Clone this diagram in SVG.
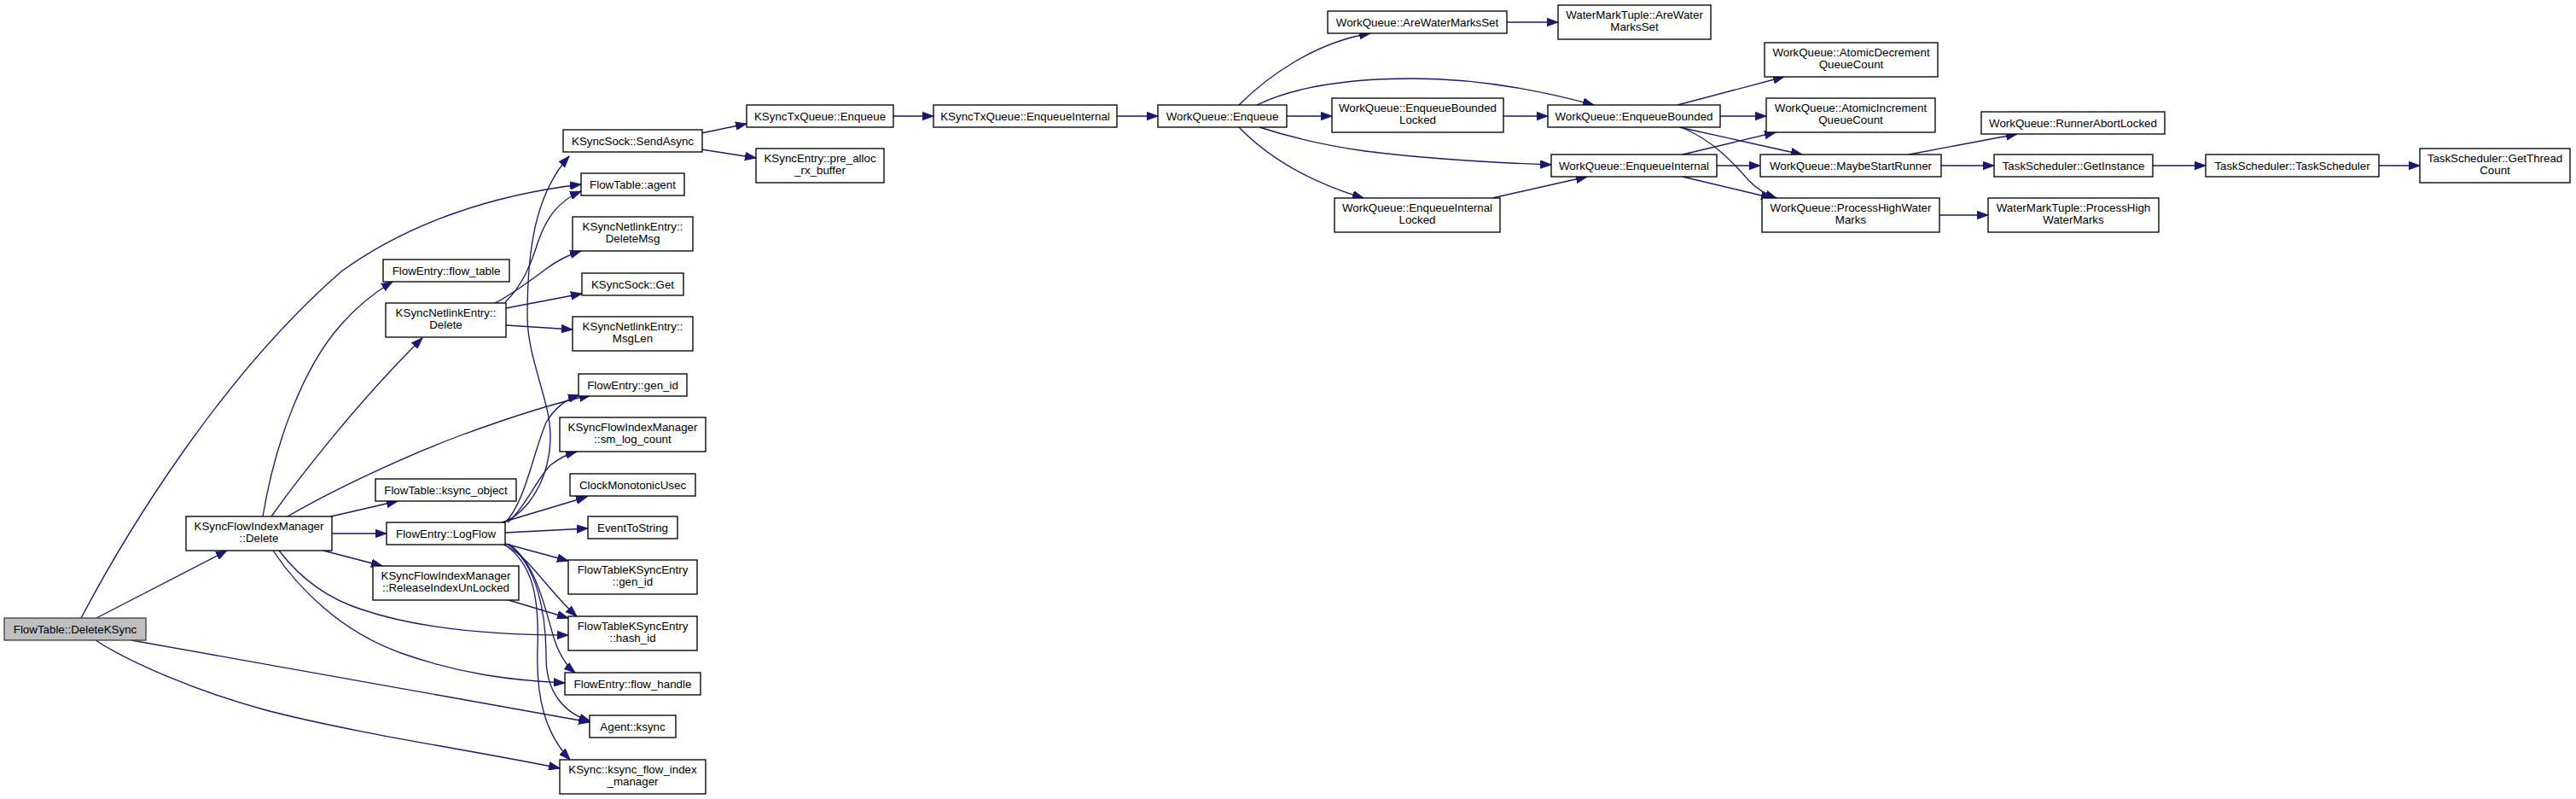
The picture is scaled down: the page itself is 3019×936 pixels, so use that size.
<svg xmlns="http://www.w3.org/2000/svg" width="3019" height="936" viewBox="0 0 3019 936">
<style>
.n rect{fill:#ffffff;stroke:#000000;stroke-width:1.33}
.root rect{fill:#bfbfbf;stroke:#404040;stroke-width:1.33}
text{font-family:"Liberation Sans",Arial,Helvetica,sans-serif;font-size:13.33px;text-anchor:middle;fill:#000000}
.e path{fill:none;stroke:#191970;stroke-width:1.33;marker-end:url(#ah)}
</style>
<defs>
<marker id="ah" markerWidth="14" markerHeight="10" refX="13" refY="5" orient="auto" markerUnits="userSpaceOnUse">
<path d="M0,0.3 L13,5 L0,9.7 z" fill="#191970" stroke="#191970" stroke-width="1"/>
</marker>
</defs>
<rect x="0" y="0" width="3019" height="936" fill="#ffffff"/>
<g id="edges" class="e">
<path d="M113,724 L266,645"/>
<path d="M95,724 C150,620 260,440 400,318 C480,260 580,228 681,216"/>
<path d="M154,750 L691,846"/>
<path d="M112,750 C150,775 230,810 312,832 C420,860 560,880 656,900"/>
<path d="M308,605 C322,520 355,430 400,380 C420,357 440,342 460,330"/>
<path d="M318,605 C350,560 420,470 495,396"/>
<path d="M337,605 C380,580 460,540 540,510 C600,488 650,472 692,463"/>
<path d="M388,605 L466,587"/>
<path d="M389,625 L453,625"/>
<path d="M379,645 L448,663"/>
<path d="M327,645 C350,675 380,700 424,714 C480,733 560,744 666,744"/>
<path d="M320,645 C350,690 400,740 470,765 C540,790 600,797 662,800"/>
<path d="M592,354 C612,335 622,310 630,285 C640,255 655,235 681,224"/>
<path d="M580,355 C600,345 620,330 640,315 C652,306 665,299 681,294"/>
<path d="M593,361 L682,344"/>
<path d="M593,381 L671,386"/>
<path d="M588,613 C620,600 645,560 645,510 C645,470 618,420 618,370 C618,300 625,230 667,183"/>
<path d="M592,612 C615,590 625,530 640,495 C650,478 662,468 679,463"/>
<path d="M595,612 C615,595 630,560 645,545 C655,537 665,532 676,529"/>
<path d="M588,612 L688,582"/>
<path d="M592,624 L689,619"/>
<path d="M592,637 L666,657"/>
<path d="M588,637 C620,650 640,690 676,722"/>
<path d="M596,703 L666,724"/>
<path d="M596,637 C630,660 640,720 650,750 C656,768 664,780 674,788"/>
<path d="M594,637 C630,660 640,720 640,770 C640,810 660,835 692,845"/>
<path d="M590,637 C625,660 632,700 630,760 C628,820 640,860 668,890"/>
<path d="M822,156 L875,145"/>
<path d="M822,175 L886,185"/>
<path d="M1047,136 L1094,136"/>
<path d="M1309,136 L1357,136"/>
<path d="M1452,123 C1485,90 1540,50 1606,39"/>
<path d="M1473,123 C1520,100 1590,92 1657,92 C1740,92 1820,110 1868,123"/>
<path d="M1508,136 L1561,136"/>
<path d="M1476,149 C1510,160 1550,170 1600,177 C1680,187 1760,191 1818,193"/>
<path d="M1452,149 C1480,178 1525,210 1598,232"/>
<path d="M1766,26 L1826,26"/>
<path d="M1762,136 L1814,136"/>
<path d="M1749,232 L1860,207"/>
<path d="M1966,123 L2091,90"/>
<path d="M2016,136 L2070,136"/>
<path d="M1968,149 L2112,181"/>
<path d="M1970,149 C2010,165 2035,195 2050,212 C2060,222 2070,228 2082,232"/>
<path d="M1972,181 L2081,155"/>
<path d="M2012,194 L2063,194"/>
<path d="M1972,207 L2077,232"/>
<path d="M2237,181 L2364,157"/>
<path d="M2275,194 L2337,194"/>
<path d="M2523,194 L2585,194"/>
<path d="M2788,194 L2836,194"/>
<path d="M2273,252 L2330,252"/>
</g>
<g id="n_DeleteKSync" class="root"><rect x="5" y="724" width="166" height="26"/><text x="88" y="741.5">FlowTable::DeleteKSync</text></g>
<g id="n_KFIM_Delete" class="n"><rect x="218" y="605" width="171" height="40"/><text x="303.5" y="620.5">KSyncFlowIndexManager</text><text x="303.5" y="635">::Delete</text></g>
<g id="n_flow_table" class="n"><rect x="449" y="304" width="148" height="26"/><text x="523" y="321.5">FlowEntry::flow_table</text></g>
<g id="n_KNE_Delete" class="n"><rect x="452" y="355" width="141" height="40"/><text x="522.5" y="370.5">KSyncNetlinkEntry::</text><text x="522.5" y="385">Delete</text></g>
<g id="n_ksync_object" class="n"><rect x="440" y="561" width="165" height="26"/><text x="522.5" y="578.5">FlowTable::ksync_object</text></g>
<g id="n_LogFlow" class="n"><rect x="453" y="612" width="139" height="26"/><text x="522.5" y="629.5">FlowEntry::LogFlow</text></g>
<g id="n_Release" class="n"><rect x="437" y="663" width="171" height="40"/><text x="522.5" y="678.5">KSyncFlowIndexManager</text><text x="522.5" y="693">::ReleaseIndexUnLocked</text></g>
<g id="n_SendAsync" class="n"><rect x="660" y="152" width="163" height="26"/><text x="741.5" y="169.5">KSyncSock::SendAsync</text></g>
<g id="n_agent" class="n"><rect x="681" y="203" width="121" height="26"/><text x="741.5" y="220.5">FlowTable::agent</text></g>
<g id="n_DeleteMsg" class="n"><rect x="671" y="254" width="141" height="40"/><text x="741.5" y="269.5">KSyncNetlinkEntry::</text><text x="741.5" y="284">DeleteMsg</text></g>
<g id="n_Get" class="n"><rect x="682" y="320" width="119" height="26"/><text x="741.5" y="337.5">KSyncSock::Get</text></g>
<g id="n_MsgLen" class="n"><rect x="671" y="371" width="141" height="40"/><text x="741.5" y="386.5">KSyncNetlinkEntry::</text><text x="741.5" y="401">MsgLen</text></g>
<g id="n_gen_id" class="n"><rect x="678" y="438" width="127" height="26"/><text x="741.5" y="455.5">FlowEntry::gen_id</text></g>
<g id="n_sm_log_count" class="n"><rect x="656" y="489" width="171" height="40"/><text x="741.5" y="504.5">KSyncFlowIndexManager</text><text x="741.5" y="519">::sm_log_count</text></g>
<g id="n_Clock" class="n"><rect x="668" y="555" width="147" height="26"/><text x="741.5" y="572.5">ClockMonotonicUsec</text></g>
<g id="n_EventToString" class="n"><rect x="689" y="605" width="105" height="26"/><text x="741.5" y="622.5">EventToString</text></g>
<g id="n_FTKE_gen_id" class="n"><rect x="666" y="656" width="151" height="40"/><text x="741.5" y="671.5">FlowTableKSyncEntry</text><text x="741.5" y="686">::gen_id</text></g>
<g id="n_FTKE_hash_id" class="n"><rect x="666" y="722" width="151" height="40"/><text x="741.5" y="737.5">FlowTableKSyncEntry</text><text x="741.5" y="752">::hash_id</text></g>
<g id="n_flow_handle" class="n"><rect x="662" y="788" width="159" height="26"/><text x="741.5" y="805.5">FlowEntry::flow_handle</text></g>
<g id="n_Agent_ksync" class="n"><rect x="691" y="838" width="101" height="26"/><text x="741.5" y="855.5">Agent::ksync</text></g>
<g id="n_KSync_fim" class="n"><rect x="656" y="890" width="171" height="40"/><text x="741.5" y="905.5">KSync::ksync_flow_index</text><text x="741.5" y="920">_manager</text></g>
<g id="n_KTQ_Enqueue" class="n"><rect x="875" y="123" width="172" height="26"/><text x="961" y="140.5">KSyncTxQueue::Enqueue</text></g>
<g id="n_pre_alloc" class="n"><rect x="886" y="174" width="150" height="40"/><text x="961" y="189.5">KSyncEntry::pre_alloc</text><text x="961" y="204">_rx_buffer</text></g>
<g id="n_KTQ_EnqueueInternal" class="n"><rect x="1094" y="123" width="215" height="26"/><text x="1201.5" y="140.5">KSyncTxQueue::EnqueueInternal</text></g>
<g id="n_WQ_Enqueue" class="n"><rect x="1357" y="123" width="151" height="26"/><text x="1432.5" y="140.5">WorkQueue::Enqueue</text></g>
<g id="n_AreWaterMarksSet" class="n"><rect x="1556" y="13" width="210" height="26"/><text x="1661" y="30.5">WorkQueue::AreWaterMarksSet</text></g>
<g id="n_EnqueueBoundedLocked" class="n"><rect x="1561" y="115" width="201" height="40"/><text x="1661.5" y="130.5">WorkQueue::EnqueueBounded</text><text x="1661.5" y="145">Locked</text></g>
<g id="n_EnqueueInternalLocked" class="n"><rect x="1564" y="232" width="194" height="40"/><text x="1661" y="247.5">WorkQueue::EnqueueInternal</text><text x="1661" y="262">Locked</text></g>
<g id="n_WMT_AreWaterMarksSet" class="n"><rect x="1826" y="6" width="179" height="40"/><text x="1915.5" y="21.5">WaterMarkTuple::AreWater</text><text x="1915.5" y="36">MarksSet</text></g>
<g id="n_EnqueueBounded" class="n"><rect x="1814" y="123" width="202" height="26"/><text x="1915" y="140.5">WorkQueue::EnqueueBounded</text></g>
<g id="n_EnqueueInternal" class="n"><rect x="1818" y="181" width="194" height="26"/><text x="1915" y="198.5">WorkQueue::EnqueueInternal</text></g>
<g id="n_AtomicDecrement" class="n"><rect x="2068" y="50" width="203" height="40"/><text x="2169.5" y="65.5">WorkQueue::AtomicDecrement</text><text x="2169.5" y="80">QueueCount</text></g>
<g id="n_AtomicIncrement" class="n"><rect x="2070" y="115" width="198" height="40"/><text x="2169" y="130.5">WorkQueue::AtomicIncrement</text><text x="2169" y="145">QueueCount</text></g>
<g id="n_MaybeStartRunner" class="n"><rect x="2063" y="181" width="212" height="26"/><text x="2169" y="198.5">WorkQueue::MaybeStartRunner</text></g>
<g id="n_ProcessHighWaterMarks" class="n"><rect x="2065" y="232" width="208" height="40"/><text x="2169" y="247.5">WorkQueue::ProcessHighWater</text><text x="2169" y="262">Marks</text></g>
<g id="n_RunnerAbortLocked" class="n"><rect x="2322" y="131" width="215" height="26"/><text x="2429.5" y="148.5">WorkQueue::RunnerAbortLocked</text></g>
<g id="n_GetInstance" class="n"><rect x="2337" y="181" width="186" height="26"/><text x="2430" y="198.5">TaskScheduler::GetInstance</text></g>
<g id="n_WMT_ProcessHighWaterMarks" class="n"><rect x="2330" y="232" width="200" height="40"/><text x="2430" y="247.5">WaterMarkTuple::ProcessHigh</text><text x="2430" y="262">WaterMarks</text></g>
<g id="n_TaskScheduler" class="n"><rect x="2585" y="181" width="203" height="26"/><text x="2686.5" y="198.5">TaskScheduler::TaskScheduler</text></g>
<g id="n_GetThreadCount" class="n"><rect x="2836" y="174" width="176" height="40"/><text x="2924" y="189.5">TaskScheduler::GetThread</text><text x="2924" y="204">Count</text></g>
</svg>
